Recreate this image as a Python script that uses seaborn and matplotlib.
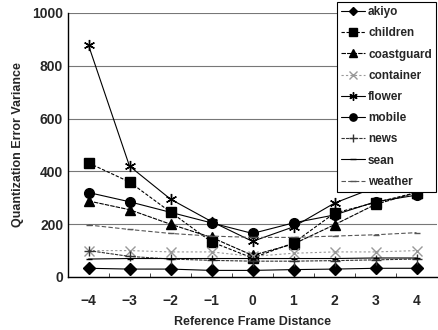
import matplotlib
matplotlib.use("Agg")
import matplotlib.pyplot as plt
import seaborn as sns
import pandas as pd
import numpy as np

distance = [-4, -3, -2, -1, 0, 1, 2, 3, 4]
akiyo      = [33, 30, 30, 25, 25, 28, 30, 33, 33]
children   = [432, 360, 246, 133, 72, 129, 242, 282, 320]
coastguard = [288, 255, 200, 150, 82, 125, 198, 275, 320]
container  = [100, 100, 95, 95, 78, 90, 95, 95, 100]
flower     = [878, 420, 295, 210, 135, 190, 280, 340, 390]
mobile     = [320, 285, 245, 205, 165, 205, 235, 285, 310]
news       = [100, 78, 68, 63, 60, 60, 62, 65, 68]
sean       = [68, 70, 70, 70, 70, 70, 70, 72, 72]
weather    = [197, 180, 165, 155, 150, 150, 155, 160, 168]

names = ["akiyo", "children", "coastguard", "container", "flower",
         "mobile", "news", "sean", "weather"]
series = [akiyo, children, coastguard, container, flower, mobile, news, sean, weather]

sns.set_style("white")
plt.rcParams["font.family"] = ["Liberation Sans", "DejaVu Sans"]

fig = plt.figure(figsize=(4.38, 3.30), dpi=100)
ax = fig.add_axes([68 / 438, 1 - 277 / 330, 369 / 438, 264 / 330])

colors = {"akiyo": "black", "children": "black", "coastguard": "black",
          "container": "#999999", "flower": "black", "mobile": "black",
          "news": "#333333", "sean": "black", "weather": "#555555"}
markers = {"akiyo": "D", "children": "s", "coastguard": "^", "container": "x",
           "flower": (6, 2, 0), "mobile": "o", "news": "+", "sean": "_",
           "weather": "_"}
styles = {"akiyo": "-", "children": (0, (3, 1.5)), "coastguard": (0, (4, 1)),
          "container": (0, (2, 2)), "flower": "-", "mobile": "-",
          "news": (0, (3, 1)), "sean": "-", "weather": (0, (4, 2))}
msize = {"akiyo": 6, "children": 7, "coastguard": 7, "container": 7, "flower": 8,
         "mobile": 7, "news": 7, "sean": 5, "weather": 5}

for name, vals in zip(names, series):
    d = pd.DataFrame({"Reference Frame Distance": distance,
                      "Quantization Error Variance": vals})
    sns.lineplot(data=d, x="Reference Frame Distance", y="Quantization Error Variance",
                 color=colors[name], marker=markers[name], linestyle=styles[name],
                 markersize=msize[name], markeredgewidth=1.0,
                 markeredgecolor=colors[name], linewidth=0.8, label=name, ax=ax)

ax.set_xlim(-4.5, 4.5)
ax.set_ylim(0, 1000)
ax.set_xticks(distance)
ax.set_xticks(np.arange(-3.5, 4.0, 1.0), minor=True)
ax.set_yticks([0, 200, 400, 600, 800, 1000])
ax.yaxis.grid(True, color="#777777", linewidth=0.8)
ax.tick_params(axis="x", which="major", length=0, labelsize=10, pad=12)
ax.tick_params(axis="x", which="minor", direction="in", length=3, bottom=True)
ax.tick_params(axis="y", labelsize=10, length=0)
for lab in ax.get_xticklabels() + ax.get_yticklabels():
    lab.set_fontweight("bold")
ax.set_xlabel("Reference Frame Distance", fontsize=9, fontweight="bold", labelpad=6)
ax.set_ylabel("Quantization Error Variance", fontsize=9, fontweight="bold", labelpad=6)
for s in ["top", "right"]:
    ax.spines[s].set_visible(False)
for s in ["left", "bottom"]:
    ax.spines[s].set_color("black")
    ax.spines[s].set_linewidth(1.0)

leg = ax.legend(loc="upper right", bbox_to_anchor=(436 / 438, 1 - 2 / 330),
                bbox_transform=fig.transFigure, frameon=True, fancybox=False,
                edgecolor="black", fontsize=8.5, handlelength=2.0, handletextpad=0.3,
                labelspacing=0.78, borderpad=0.35, borderaxespad=0, markerscale=0.75,
                framealpha=1)
leg.get_frame().set_linewidth(0.8)
leg.set_zorder(10)
for t in leg.get_texts():
    t.set_fontweight("bold")

fig.savefig("out.png", dpi=100)
